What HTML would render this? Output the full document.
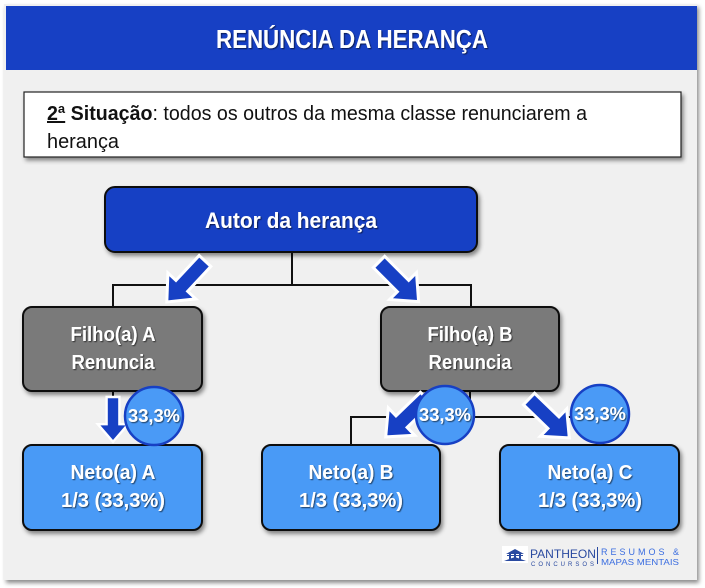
<!DOCTYPE html>
<html><head><meta charset="utf-8"><style>
html,body{margin:0;padding:0;background:#fff;}
svg{display:block;}
.t{font-family:"Liberation Sans Narrow","Liberation Sans",sans-serif;font-weight:bold;fill:#fff;}
</style></head><body>
<svg width="705" height="588" viewBox="0 0 705 588">
<defs>
<filter id="sh" x="-10%" y="-10%" width="130%" height="130%"><feDropShadow dx="2" dy="3" stdDeviation="2" flood-color="#000" flood-opacity="0.45"/></filter>
<filter id="ts"><feDropShadow dx="1" dy="1" stdDeviation="0.6" flood-color="#000" flood-opacity="0.6"/></filter>
<g id="arr"><polygon points="0,-8 34,-8 34,-19 56,0 34,19 34,8 0,8" fill="#1740c4" stroke="#fff" stroke-width="3" stroke-linejoin="miter"/></g>
</defs>
<rect x="4" y="4" width="693" height="576" fill="#f0f0f0" filter="url(#sh)"/>
<rect x="6" y="6" width="691" height="64" fill="#1740c4"/>
<text x="352" y="48" text-anchor="middle" class="t" font-size="26" filter="url(#ts)" textLength="272" lengthAdjust="spacingAndGlyphs">RENÚNCIA DA HERANÇA</text>
<rect x="24" y="92" width="657" height="65" fill="#fff" stroke="#222" stroke-width="1.2" filter="url(#sh)"/>
<text x="47" y="120" font-family="Liberation Sans Narrow,Liberation Sans,sans-serif" font-size="20" fill="#111" textLength="540" lengthAdjust="spacingAndGlyphs"><tspan font-weight="bold" text-decoration="underline">2ª</tspan><tspan font-weight="bold"> Situação</tspan>: todos os outros da mesma classe renunciarem a</text>
<text x="47" y="148" font-family="Liberation Sans Narrow,Liberation Sans,sans-serif" font-size="20" fill="#111" textLength="72" lengthAdjust="spacingAndGlyphs">herança</text>
<g stroke="#111" stroke-width="2" fill="none">
<path d="M292,252 V285 M113,306 V285 H471 V306"/>
<path d="M470,391 V417 M351,445 V417 H590"/>
<path d="M113,391 V400"/>
</g>
<rect x="105" y="187" width="372" height="65" rx="10" fill="#1740c4" stroke="#111" stroke-width="2" filter="url(#sh)"/>
<text x="291" y="228" text-anchor="middle" class="t" font-size="22" filter="url(#ts)" textLength="172" lengthAdjust="spacingAndGlyphs">Autor da herança</text>
<rect x="23" y="307" width="179" height="84" rx="9" fill="#7a7a7a" stroke="#111" stroke-width="2" filter="url(#sh)"/>
<text x="113" y="341" text-anchor="middle" class="t" font-size="20" filter="url(#ts)" textLength="85" lengthAdjust="spacingAndGlyphs">Filho(a) A</text>
<text x="113" y="369" text-anchor="middle" class="t" font-size="20" filter="url(#ts)" textLength="83" lengthAdjust="spacingAndGlyphs">Renuncia</text>
<rect x="381" y="307" width="178" height="84" rx="9" fill="#7a7a7a" stroke="#111" stroke-width="2" filter="url(#sh)"/>
<text x="470" y="341" text-anchor="middle" class="t" font-size="20" filter="url(#ts)" textLength="85" lengthAdjust="spacingAndGlyphs">Filho(a) B</text>
<text x="470" y="369" text-anchor="middle" class="t" font-size="20" filter="url(#ts)" textLength="83" lengthAdjust="spacingAndGlyphs">Renuncia</text>
<g filter="url(#sh)">
<rect x="23" y="445" width="179" height="85" rx="9" fill="#4a9af6" stroke="#111" stroke-width="2"/>
<rect x="262" y="445" width="178" height="85" rx="9" fill="#4a9af6" stroke="#111" stroke-width="2"/>
<rect x="500" y="445" width="179" height="85" rx="9" fill="#4a9af6" stroke="#111" stroke-width="2"/>
</g>
<g class="t" font-size="20" text-anchor="middle" filter="url(#ts)">
<text x="113" y="479" textLength="85" lengthAdjust="spacingAndGlyphs">Neto(a) A</text>
<text x="113" y="507" textLength="104" lengthAdjust="spacingAndGlyphs">1/3 (33,3%)</text>
<text x="351" y="479" textLength="85" lengthAdjust="spacingAndGlyphs">Neto(a) B</text>
<text x="351" y="507" textLength="104" lengthAdjust="spacingAndGlyphs">1/3 (33,3%)</text>
<text x="590" y="479" textLength="85" lengthAdjust="spacingAndGlyphs">Neto(a) C</text>
<text x="590" y="507" textLength="104" lengthAdjust="spacingAndGlyphs">1/3 (33,3%)</text>
</g>
<use href="#arr" transform="translate(205,261) rotate(133)"/>
<use href="#arr" transform="translate(379,262) rotate(45)"/>
<use href="#arr" transform="translate(113,397) rotate(90) scale(0.8)"/>
<use href="#arr" transform="translate(426,398) rotate(136)"/>
<use href="#arr" transform="translate(529,399) rotate(44)"/>
<g stroke="#1740c4" stroke-width="2.5" fill="#4a9af6">
<circle cx="154" cy="416" r="29"/>
<circle cx="445" cy="415" r="29"/>
<circle cx="600" cy="414" r="29"/>
</g>
<g class="t" font-size="18" text-anchor="middle" filter="url(#ts)">
<text x="154" y="422" textLength="52" lengthAdjust="spacingAndGlyphs">33,3%</text>
<text x="445" y="421" textLength="52" lengthAdjust="spacingAndGlyphs">33,3%</text>
<text x="600" y="420" textLength="52" lengthAdjust="spacingAndGlyphs">33,3%</text>
</g>
<rect x="502" y="546" width="26" height="17" fill="#fff"/>
<path d="M504,561 L515,557 L526,561 Z M507,556 h16 v-1 h-16z M506,554 L515,549 L524,554 Z" fill="#2a4aa0"/>
<g fill="#2a4aa0"><rect x="509" y="554" width="2" height="5"/><rect x="514" y="554" width="2" height="5"/><rect x="519" y="554" width="2" height="5"/></g>
<text x="530" y="558" font-family="Liberation Sans,sans-serif" font-size="12" fill="#2a4aa0" textLength="66" lengthAdjust="spacingAndGlyphs">PANTHEON</text>
<text x="531" y="566" font-family="Liberation Sans,sans-serif" font-size="6" fill="#2a4aa0" textLength="63" lengthAdjust="spacing">CONCURSOS</text>
<rect x="597" y="547" width="1" height="17" fill="#2a4aa0"/>
<text x="601" y="555" font-family="Liberation Sans,sans-serif" font-size="9" fill="#3a6de0" textLength="78" lengthAdjust="spacing">RESUMOS &amp;</text>
<text x="601" y="565" font-family="Liberation Sans,sans-serif" font-size="8" fill="#3a6de0" textLength="78" lengthAdjust="spacingAndGlyphs">MAPAS MENTAIS</text>
</svg>
</body></html>
